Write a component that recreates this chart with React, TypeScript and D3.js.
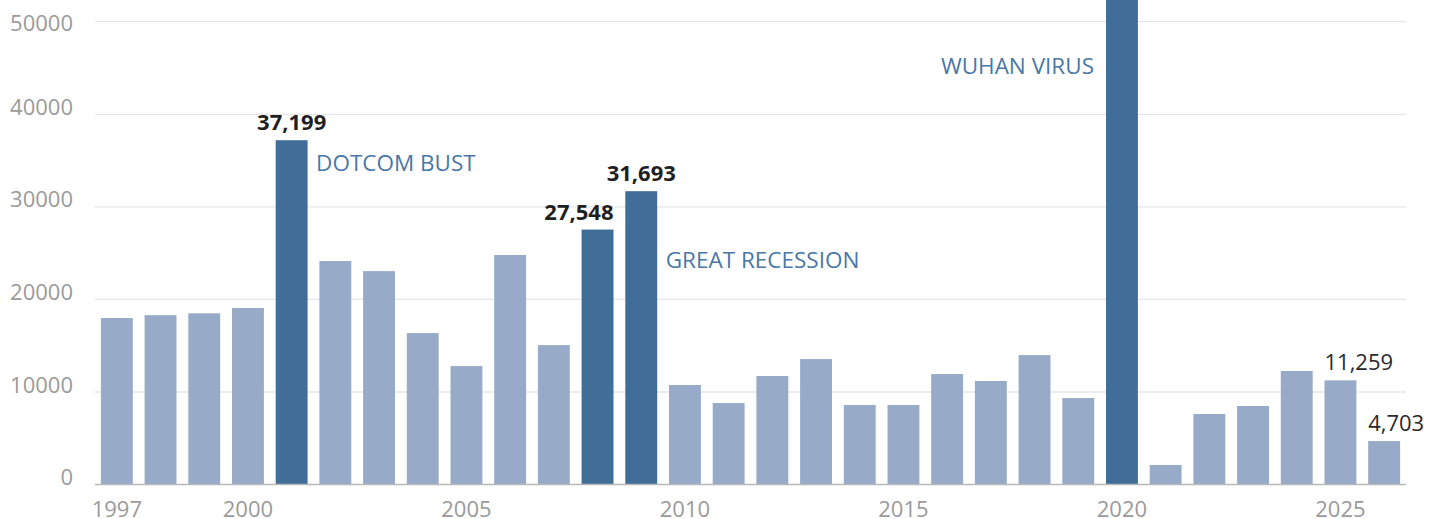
import React from "react";
import * as d3 from "d3";

const years: number[] = [
  1997, 1998, 1999, 2000, 2001, 2002, 2003, 2004, 2005, 2006, 2007, 2008, 2009, 2010, 2011,
  2012, 2013, 2014, 2015, 2016, 2017, 2018, 2019, 2020, 2021, 2022, 2023, 2024, 2025, 2026,
];
const values: number[] = [
  17990, 18300, 18500, 19070, 37199, 24150, 23060, 16370, 12800, 24800, 15070, 27548, 31693, 10760, 8810,
  11730, 13560, 8600, 8600, 11940, 11190, 13990, 9350, 60000, 2120, 7620, 8490, 12270, 11259, 4703,
];
const highlightYears: number[] = [2001, 2008, 2009, 2020];
const yTicks: number[] = [0, 10000, 20000, 30000, 40000, 50000];
const xTickYears: number[] = [1997, 2000, 2005, 2010, 2015, 2020, 2025];

// bold value labels: year, anchor
const boldLabelYears: number[] = [2001, 2008, 2009];
const boldLabelAnchors: string[] = ["middle", "end", "middle"];
// plain value labels
const plainLabelYears: number[] = [2025, 2026];

// annotations
const annoTexts: string[] = ["DOTCOM BUST", "GREAT RECESSION", "WUHAN VIRUS"];
const annoYears: number[] = [2001, 2009, 2020];
const annoValues: number[] = [33900, 23400, 44300];
const annoSides: string[] = ["right", "right", "left"];

const W = 1442;
const H = 519;
const FONT = "'Open Sans', 'Noto Sans', sans-serif";

export default function App() {
  const x = d3
    .scaleBand<number>()
    .domain(years)
    .range([95, 1406])
    .paddingInner(0.27)
    .paddingOuter(0.135);
  const y = d3.scaleLinear().domain([0, 50000]).range([484.6, 21.7]);
  const fmt = d3.format(",");
  const bw = x.bandwidth();
  const valOf = (yr: number) => values[years.indexOf(yr)];

  return (
    <div style={{ position: "absolute", left: 0, top: 0 }}>
      <svg width={W} height={H} style={{ display: "block" }} fontFamily={FONT}>
        {yTicks.filter((t) => t > 0).map((t) => (
          <line key={"g" + t} x1={95} x2={1406} y1={y(t)} y2={y(t)} stroke="#e6e6e6" strokeWidth={1.3} />
        ))}
        {yTicks.map((t) => (
          <text
            key={"yt" + t}
            x={73}
            y={Math.max(y(t) + 0.5, 30.5)}
            textAnchor="end"
            fontSize={22}
            fill="#9a9a9a"
          >
            {t}
          </text>
        ))}
        {years.map((yr, i) => (
          <rect
            key={"b" + yr}
            x={x(yr)}
            y={y(values[i])}
            width={bw}
            height={y(0) - y(values[i])}
            fill={highlightYears.includes(yr) ? "#416e98" : "#97abc8"}
          />
        ))}
        <line x1={95} x2={1406} y1={y(0)} y2={y(0)} stroke="#b8b8b8" strokeWidth={1.5} />
        {xTickYears.map((yr) => (
          <text
            key={"xt" + yr}
            x={(x(yr) as number) + bw / 2}
            y={517}
            textAnchor="middle"
            fontSize={22}
            fill="#9a9a9a"
          >
            {yr}
          </text>
        ))}
        {boldLabelYears.map((yr, i) => {
          const anchor = boldLabelAnchors[i];
          const bx = x(yr) as number;
          const tx = anchor === "end" ? bx + bw : bx + bw / 2;
          return (
            <text
              key={"bl" + yr}
              x={tx}
              y={y(valOf(yr)) - 10}
              textAnchor={anchor}
              fontSize={22}
              fontWeight={700}
              fill="#1f1f1f"
            >
              {fmt(valOf(yr))}
            </text>
          );
        })}
        {plainLabelYears.map((yr) => (
          <text
            key={"pl" + yr}
            x={x(yr) as number}
            y={y(valOf(yr)) - 10}
            textAnchor="start"
            fontSize={22}
            fill="#2a2a2a"
          >
            {fmt(valOf(yr))}
          </text>
        ))}
        {annoTexts.map((t, i) => {
          const bx = x(annoYears[i]) as number;
          const right = annoSides[i] === "right";
          return (
            <text
              key={"a" + i}
              x={right ? bx + bw + 8.5 : bx - 12}
              y={y(annoValues[i])}
              textAnchor={right ? "start" : "end"}
              fontSize={22.5}
              fill="#4a77a6"
            >
              {t}
            </text>
          );
        })}
      </svg>
    </div>
  );
}
